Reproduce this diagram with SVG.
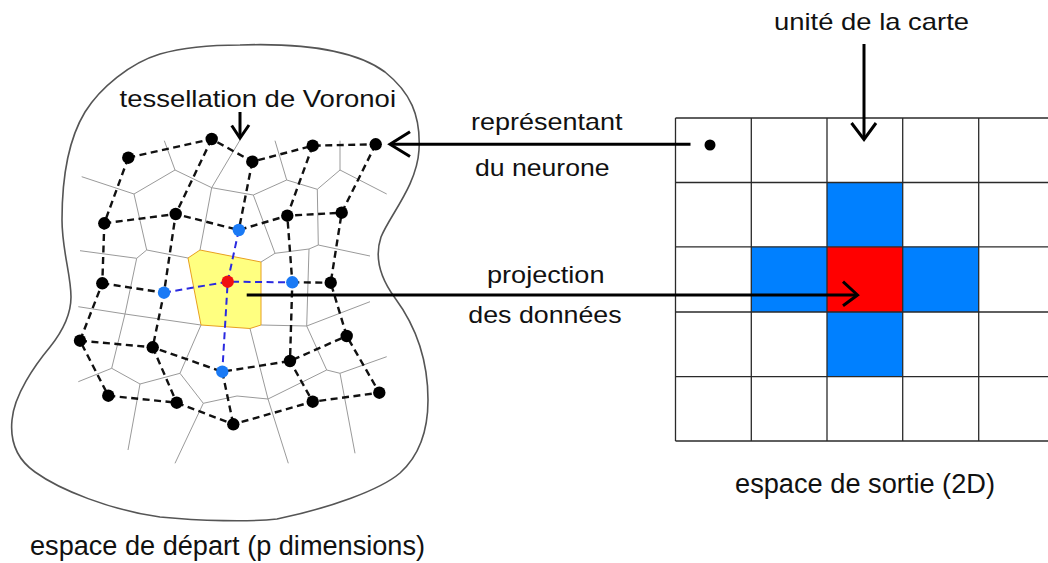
<svg xmlns="http://www.w3.org/2000/svg" width="1048" height="563" viewBox="0 0 1048 563">
<style>
text{font-family:"Liberation Sans",Arial,sans-serif;fill:#111}
.lbl{font-size:24px}
.big{font-size:27px}
.vor{stroke:#9a9a9a;stroke-width:1;fill:none}
.dash{stroke:#111;stroke-width:2.4;stroke-dasharray:7,4.5;fill:none}
.bdash{stroke:#2a2ae0;stroke-width:2;stroke-dasharray:7,4.5;fill:none}
.arr{stroke:#000;stroke-width:3;fill:none}
.grid{stroke:#2a2a2a;stroke-width:1.3;fill:none}
.bk{fill:#000}
.bl{fill:#1a7af5}
.rd{fill:#f01010}
.cb{fill:#0080ff}
.cr{fill:#ff0000}
</style>
<rect width="1048" height="563" fill="#fff"/>

<g id="espace-depart">
<path d="M240,45 C300,43 355,50 385,72 C410,92 421,115 419,150 C417,185 390,215 381,237 C375,255 378,275 395,298 C415,325 428,360 428,400 C428,430 420,455 400,473 C380,490 330,508 277,519 C250,522 200,521 160,517 C110,510 60,490 35,472 C15,458 10,440 12,420 C14,395 35,365 50,347 C62,332 71,315 71,297 C71,275 62,250 62,220 C62,180 68,140 85,112 C100,88 130,63 160,54 C185,47 215,45 240,45 Z" fill="none" stroke="#555" stroke-width="1.6"/>
<polygon id="voronoi-cell" points="188,258 200,250 261,262 261,325 250,328.5 201,325" fill="#ffff80" stroke="#e8a020" stroke-width="1"/>
<g id="voronoi">
<polyline class="vor" points="81.7,176.7 134,194 175,170 164.3,140.7"/>
<polyline class="vor" points="175,170 211.7,187.7 240,140"/>
<polyline class="vor" points="211.7,187.7 253.3,195 286.7,180 275,140.7"/>
<polyline class="vor" points="211.7,187.7 200,250"/>
<polyline class="vor" points="286.7,180 317.3,189.3 340,170 340,140.7"/>
<polyline class="vor" points="340,170 386.7,194"/>
<polyline class="vor" points="317.3,189.3 318.3,245 370,256"/>
<polyline class="vor" points="253.3,195 275,253.3 261,262"/>
<polyline class="vor" points="275,253.3 309,249 318.3,245"/>
<polyline class="vor" points="309,249 306.7,326 261,325"/>
<polyline class="vor" points="306.7,326 370,301.7"/>
<polyline class="vor" points="306.7,326 326.7,370 340,373.3 386.7,356.7"/>
<polyline class="vor" points="340,373.3 355,453.3"/>
<polyline class="vor" points="326.7,370 268,399 288.3,463.3"/>
<polyline class="vor" points="250,328.5 268,399"/>
<polyline class="vor" points="268,399 237,396 203.3,403.3 175,463.3"/>
<polyline class="vor" points="134,194 146.7,250 188,258"/>
<polyline class="vor" points="146.7,250 136.7,258.3 80,250.7"/>
<polyline class="vor" points="136.7,258.3 125,314 78.3,306.7"/>
<polyline class="vor" points="125,314 201,325 180,373.3 140,384 111.7,368.3 78.3,381.7"/>
<polyline class="vor" points="125,314 111.7,368.3"/>
<polyline class="vor" points="140,384 128,450"/>
<polyline class="vor" points="180,373.3 203.3,403.3"/>
</g>
<g id="reseau">
<polyline class="dash" points="128.3,157.7 211.7,139 252.3,161.7 312.7,145.7 375.7,144.3"/>
<polyline class="dash" points="104.3,223.3 175.7,214 238.8,230 287.3,215.7 341.7,212.7"/>
<polyline class="dash" points="102.3,283.3 164,292.7"/>
<polyline class="dash" points="292.3,282.3 330.7,282.7"/>
<polyline class="dash" points="80,340.7 152.7,347.3 222.3,371.7 290,361 346.7,336"/>
<polyline class="dash" points="108.3,395.7 176.7,402.7 233.3,424.3 312.7,401.7 379.3,392.7"/>
<polyline class="dash" points="128.3,157.7 104.3,223.3 102.3,283.3 80,340.7 108.3,395.7"/>
<polyline class="dash" points="211.7,139 175.7,214 164,292.7 152.7,347.3 176.7,402.7"/>
<polyline class="dash" points="252.3,161.7 238.8,230"/>
<polyline class="dash" points="222.3,371.7 233.3,424.3"/>
<polyline class="dash" points="312.7,145.7 287.3,215.7 292.3,282.3 290,361 312.7,401.7"/>
<polyline class="dash" points="375.7,144.3 341.7,212.7 330.7,282.7 346.7,336 379.3,392.7"/>
<polyline class="bdash" points="164,292.7 227.7,281.7 292.3,282.3"/>
<polyline class="bdash" points="238.8,230 227.7,281.7 222.3,371.7"/>
<g class="bk">
<circle cx="128.3" cy="157.7" r="6.2"/><circle cx="211.7" cy="139" r="6.2"/><circle cx="252.3" cy="161.7" r="6.2"/><circle cx="312.7" cy="145.7" r="6.2"/><circle cx="375.7" cy="144.3" r="6.2"/>
<circle cx="104.3" cy="223.3" r="6.2"/><circle cx="175.7" cy="214" r="6.2"/><circle cx="287.3" cy="215.7" r="6.2"/><circle cx="341.7" cy="212.7" r="6.2"/>
<circle cx="102.3" cy="283.3" r="6.2"/><circle cx="330.7" cy="282.7" r="6.2"/>
<circle cx="80" cy="340.7" r="6.2"/><circle cx="152.7" cy="347.3" r="6.2"/><circle cx="290" cy="361" r="6.2"/><circle cx="346.7" cy="336" r="6.2"/>
<circle cx="108.3" cy="395.7" r="6.2"/><circle cx="176.7" cy="402.7" r="6.2"/><circle cx="233.3" cy="424.3" r="6.2"/><circle cx="312.7" cy="401.7" r="6.2"/><circle cx="379.3" cy="392.7" r="6.2"/>
</g>
<g class="bl">
<circle cx="238.8" cy="230" r="6.2"/><circle cx="164" cy="292.7" r="6.2"/><circle cx="292.3" cy="282.3" r="6.2"/><circle cx="222.3" cy="371.7" r="6.2"/>
</g>
<circle class="rd" cx="227.7" cy="281.7" r="6.2"/>
</g>
</g>

<g id="espace-sortie">
<rect class="cb" x="827" y="182.5" width="75.7" height="64.3"/>
<rect class="cb" x="751.3" y="246.8" width="75.7" height="65.2"/>
<rect class="cb" x="902.7" y="246.8" width="76" height="65.2"/>
<rect class="cb" x="827" y="312" width="75.7" height="64.7"/>
<rect class="cr" x="827" y="246.8" width="75.7" height="65.2"/>
<g class="grid">
<line x1="675.5" y1="118" x2="1048" y2="118"/>
<line x1="675.5" y1="182.5" x2="1048" y2="182.5"/>
<line x1="675.5" y1="246.8" x2="1048" y2="246.8"/>
<line x1="675.5" y1="312" x2="1048" y2="312"/>
<line x1="675.5" y1="376.7" x2="1048" y2="376.7"/>
<line x1="675.5" y1="441" x2="1048" y2="441"/>
<line x1="675.5" y1="118" x2="675.5" y2="441"/>
<line x1="751.3" y1="118" x2="751.3" y2="441"/>
<line x1="827" y1="118" x2="827" y2="441"/>
<line x1="902.7" y1="118" x2="902.7" y2="441"/>
<line x1="978.7" y1="118" x2="978.7" y2="441"/>
</g>
<circle class="bk" cx="710" cy="145" r="5.5"/>
</g>

<g id="connecteurs">
<line class="arr" x1="240" y1="112" x2="240" y2="137"/>
<polyline class="arr" points="231.7,125.5 240,138 249,125"/>
<line class="arr" x1="690.5" y1="144.3" x2="391" y2="144.3"/>
<polyline class="arr" points="410,131.7 390,144.3 410,156.5"/>
<line class="arr" x1="864" y1="44" x2="864" y2="138"/>
<polyline class="arr" points="851.5,123 864,139.5 876,123"/>
<line class="arr" x1="246.7" y1="295" x2="856" y2="295"/>
<polyline class="arr" points="843,281.7 857.5,295 843,305.7"/>
</g>

<g id="labels">
<text class="lbl" x="119.5" y="106.7" textLength="276.5" lengthAdjust="spacingAndGlyphs">tessellation de Voronoi</text>
<text class="lbl" x="774" y="30" textLength="195" lengthAdjust="spacingAndGlyphs">unité de la carte</text>
<text class="lbl" x="471" y="129.5" textLength="151.5" lengthAdjust="spacingAndGlyphs">représentant</text>
<text class="lbl" x="475" y="176" textLength="134.5" lengthAdjust="spacingAndGlyphs">du neurone</text>
<text class="lbl" x="487" y="283" textLength="117.5" lengthAdjust="spacingAndGlyphs">projection</text>
<text class="lbl" x="468.3" y="322.7" textLength="153.3" lengthAdjust="spacingAndGlyphs">des données</text>
<text class="big" x="735" y="492.7" textLength="260" lengthAdjust="spacingAndGlyphs">espace de sortie (2D)</text>
<text class="big" x="30" y="555" textLength="395" lengthAdjust="spacingAndGlyphs">espace de départ (p dimensions)</text>
</g>
</svg>
